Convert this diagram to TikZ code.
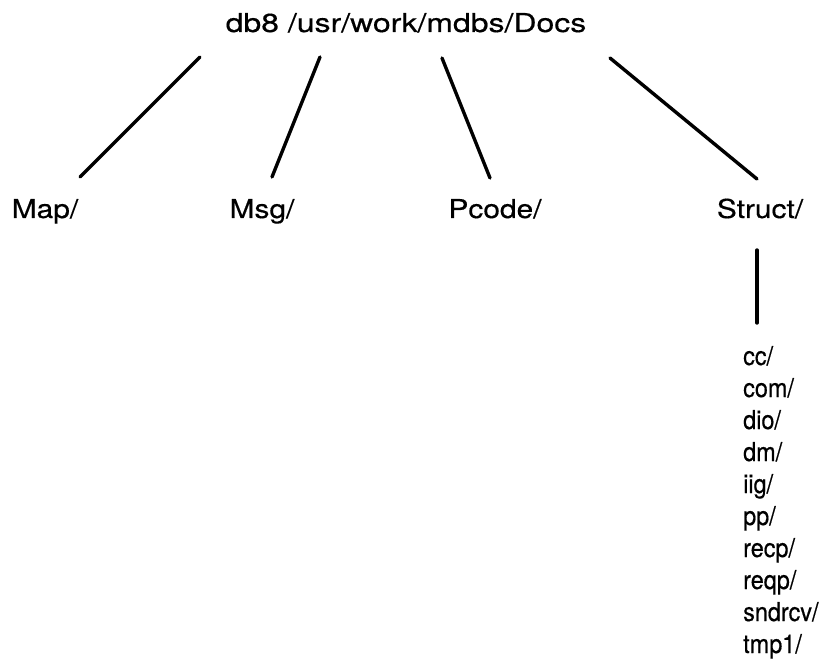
\documentclass[tikz,border=0pt]{standalone}
\usepackage{fontspec}
\setmainfont[FakeBold=0.4]{TeX Gyre Heros}
\newfontfamily\widefont[FakeStretch=1.23, FakeBold=0.4]{TeX Gyre Heros}
\newfontfamily\midfont[FakeStretch=1.15, FakeBold=0.4]{TeX Gyre Heros}
\newfontfamily\narrowfont[FakeStretch=0.9, FakeBold=0.5]{TeX Gyre Heros}
\usetikzlibrary{calc}

\begin{document}
\begin{tikzpicture}[x=1pt, y=-1pt]
            \tikzstyle{branch} = [line width=3.4pt, line cap=round]
            \tikzstyle{dir} = [font=\midfont\fontsize{26}{32}\selectfont, inner sep=0pt, anchor=base]
            \tikzstyle{subdir} = [font=\narrowfont\fontsize{26}{32}\selectfont, inner sep=0pt, anchor=base west]
            \useasboundingbox (0, 0) rectangle (833, 666);
            \node[dir, font=\widefont\fontsize{26}{32}\selectfont] (root) at (406, 32) {db8 /usr/work/mdbs/Docs};
            \node[dir] (map) at (45, 218) {Map/};
            \node[dir] (msg) at (262, 218) {Msg/};
            \node[dir] (pcode) at (495, 218) {Pcode/};
            \node[dir] (struct) at (760, 218) {Struct/};
            % ends of the branches
            \coordinate (r1) at (200, 57);  \coordinate (c1) at (80, 177);
            \coordinate (r2) at (320, 57);  \coordinate (c2) at (272, 177);
            \coordinate (r3) at (442, 58);  \coordinate (c3) at (490, 178);
            \coordinate (r4) at (610, 58);  \coordinate (c4) at (757, 179);
            \foreach \i in {1, 2, 3, 4} {
                \draw[branch] (r\i) -- (c\i);
            }
            \coordinate (s1) at (757, 250);
            \coordinate (s2) at (757, 323);
            \draw[branch] (s1) -- (s2);
            \foreach \d [count=\i from 0] in {cc, com, dio, dm, iig, pp, recp, reqp, sndrcv, tmp1} {
                \node[subdir] (sub\i) at (743, 365 + 32*\i) {\d/};
            }
        \end{tikzpicture}
\end{document}
